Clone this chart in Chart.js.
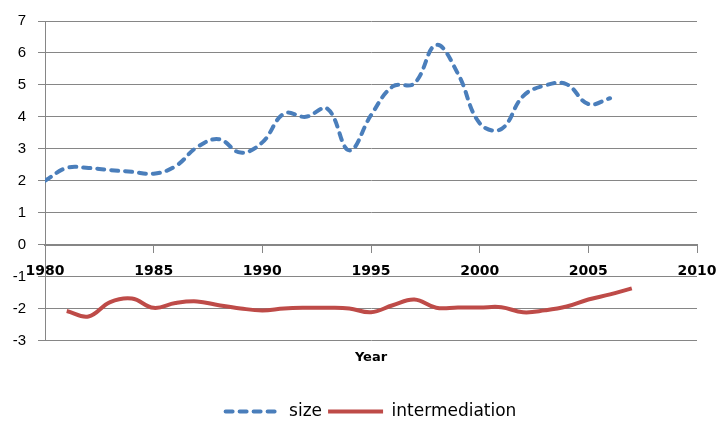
<!DOCTYPE html>
<html>
<head>
<meta charset="utf-8">
<script src="https://cdn.jsdelivr.net/npm/chart.js@4/dist/chart.umd.min.js"></script>
<style>
  html, body { margin: 0; padding: 0; background: #fff; }
  #wrap { width: 720px; height: 426px; }
</style>
</head>
<body>
<div id="wrap"><canvas id="chart"></canvas></div>
<script>
const sizeYears = [1980, 1981, 1982, 1983, 1984, 1985, 1986, 1987, 1988, 1989, 1990, 1991, 1992,
  1993, 1994, 1995, 1996, 1997, 1998, 1999, 2000, 2001, 2002, 2003, 2004, 2005, 2006];
const sizeValues = [2.0, 2.4, 2.4, 2.33, 2.28, 2.22, 2.45, 3.05, 3.3, 2.88, 3.2, 4.1, 4.0,
  4.25, 2.95, 4.05, 4.95, 5.05, 6.25, 5.35, 3.8, 3.62, 4.65, 4.98, 5.02, 4.4, 4.58];

const intYears = [1981, 1982, 1983, 1984, 1985, 1986, 1987, 1988, 1989, 1990, 1991, 1992, 1993,
  1994, 1995, 1996, 1997, 1998, 1999, 2000, 2001, 2002, 2003, 2004, 2005, 2006, 2007];
const intValues = [-2.08, -2.25, -1.8, -1.69, -1.98, -1.83, -1.78, -1.9, -2.0, -2.06, -2.0, -1.98, -1.98,
  -2.0, -2.12, -1.9, -1.72, -1.98, -1.97, -1.97, -1.96, -2.12, -2.06, -1.94, -1.72, -1.56, -1.37];

const xTicks = [1980, 1985, 1990, 1995, 2000, 2005, 2010];
const yTicks = [-3, -2, -1, 0, 1, 2, 3, 4, 5, 6, 7];

const GRID = '#868686';
const BLUE = '#4A7EBB';
const RED = '#BE4B48';
const FONT = 'Liberation Sans';
const WIDE = 'DejaVu Sans';

function toPoints(xs, ys) {
  return xs.map((x, i) => ({ x: x, y: ys[i] }));
}

// legend items: line sample with the dataset's own dash
function legendLabels(chart) {
  const items = Chart.defaults.plugins.legend.labels.generateLabels(chart);
  items.forEach((item) => {
    const ds = chart.data.datasets[item.datasetIndex];
    item.lineDash = ds.borderDash || [];
    item.lineWidth = 4;
    item.strokeStyle = ds.borderColor;
    item.lineCap = ds.borderCapStyle || 'butt';
  });
  return items;
}

const ctx = document.getElementById('chart');
new Chart(ctx, {
  type: 'line',
  data: {
    datasets: [
      {
        label: 'size',
        data: toPoints(sizeYears, sizeValues),
        borderColor: BLUE,
        backgroundColor: BLUE,
        borderWidth: 4,
        borderDash: [7, 7],
        borderCapStyle: 'round',
        tension: 0.4,
        pointRadius: 0
      },
      {
        label: 'intermediation',
        data: toPoints(intYears, intValues),
        borderColor: RED,
        backgroundColor: RED,
        borderWidth: 4,
        tension: 0.4,
        pointRadius: 0
      }
    ]
  },
  options: {
    responsive: true,
    maintainAspectRatio: false,
    animation: false,
    layout: { padding: { left: 0, right: 23, top: 20, bottom: -4 } },
    scales: {
      x: {
        type: 'linear',
        position: { y: 0 },
        min: 1980,
        max: 2010,
        afterBuildTicks: (axis) => { axis.ticks = xTicks.map(v => ({ value: v })); },
        afterFit: (axis) => { axis.paddingLeft = 0; axis.paddingRight = 0; },
        ticks: {
          color: '#000',
          font: { family: WIDE, size: 14, weight: 'bold' },
          padding: 11,
          maxRotation: 0,
          callback: (v) => String(v)
        },
        grid: { drawOnChartArea: false, drawTicks: true, tickLength: 7, color: GRID },
        border: { display: true, color: GRID, width: 2 }
      },
      y: {
        min: -3,
        max: 7,
        afterBuildTicks: (axis) => { axis.ticks = yTicks.map(v => ({ value: v })); },
        afterFit: (axis) => { axis.width = 45; },
        ticks: {
          color: '#000',
          font: { family: FONT, size: 15 },
          padding: 12
        },
        grid: { color: GRID, tickLength: 7, lineWidth: 1 },
        border: { display: true, color: GRID, width: 1 }
      }
    },
    plugins: {
      title: {
        display: true,
        text: 'Year',
        position: 'bottom',
        fullSize: false,
        weight: 500,
        color: '#000',
        font: { family: WIDE, size: 13, weight: 'bold' },
        padding: { top: 9, bottom: 32 }
      },
      legend: {
        position: 'bottom',
        fullSize: false,
        labels: {
          color: '#000',
          font: { family: WIDE, size: 17 },
          usePointStyle: true,
          pointStyle: 'line',
          pointStyleWidth: 55,
          boxWidth: 55,
          padding: 6,
          generateLabels: legendLabels
        }
      },
      tooltip: { enabled: false }
    }
  }
});
</script>
</body>
</html>
